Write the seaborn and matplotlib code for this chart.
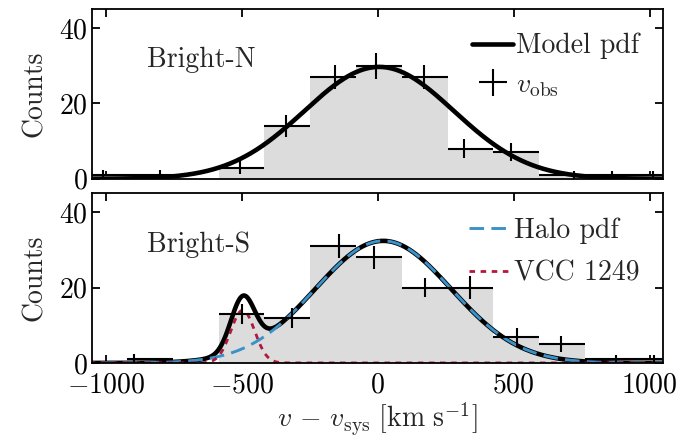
import numpy as np
import matplotlib
matplotlib.use("Agg")
import matplotlib.pyplot as plt
import seaborn as sns

# Histogram bin edges (km/s), shared by both panels
bin_edges = [-1091, -922.5, -754, -585.5, -417, -248.5, -80, 88.5, 257, 425.5, 594, 762.5, 931, 1099.5]
bin_centers = [(a + b) / 2 for a, b in zip(bin_edges[:-1], bin_edges[1:])]

# Bright-N counts per bin
north_counts = [1, 1, 0, 3, 14, 27, 30, 27, 8, 7, 1, 1, 1]
# Bright-S counts per bin
south_counts = [0, 1, 0, 13, 12, 31, 28, 20, 20, 7, 5, 1, 1]

# observed crosses: position of vertical bar, count, error
north_obs_v = [-1013, -802, -508, -336, -156, -5, 171, 317, 490, 721, 861, 1013]
north_obs_n = [1, 1, 3, 14, 27, 30, 27, 8, 7, 1, 1, 1]
north_obs_err = [1.3, 1.3, 1.7, 3.0, 3.1, 3.5, 3.1, 2.6, 2.4, 1.2, 1.2, 1.2]

south_obs_v = [-898, -498, -317, -141, -13, 174, 339, 511, 673, 875, 1015]
south_obs_n = [1, 13, 12, 31, 28, 20, 20, 7, 5, 1, 1]
south_obs_err = [1.3, 2.6, 2.6, 3.2, 3.1, 2.6, 3.0, 2.2, 2.1, 1.2, 1.2]

# Gaussian model parameters (amplitude in counts, mean, sigma in km/s)
north_model = (29.7, 5, 275)
halo_model = (32.4, 20, 250)
vcc_model = (14.0, -497, 44)

# ---------------------------------------------------------------
sns.set_style("ticks")
plt.rcParams.update({
    "font.family": "serif",
    "font.serif": ["cmr10"],
    "mathtext.fontset": "cm",
    "axes.formatter.use_mathtext": True,
    "font.size": 20,
    "axes.linewidth": 1.3,
    "xtick.direction": "in",
    "ytick.direction": "in",
    "xtick.top": True,
    "ytick.right": True,
    "xtick.major.size": 6,
    "ytick.major.size": 6,
    "xtick.major.width": 1.3,
    "ytick.major.width": 1.3,
    "xtick.major.pad": 7,
    "xtick.color": "black",
    "ytick.color": "black",
    "axes.edgecolor": "black",
})

grey = "#dcdcdc"
blue = "#3a92c8"
red = "#b2183c"


def gauss(v, amp, mu, sig):
    return amp * np.exp(-0.5 * ((v - mu) / sig) ** 2)


def xerr_for(vs):
    lo, hi = [], []
    for v in vs:
        i = np.searchsorted(bin_edges, v) - 1
        lo.append(v - bin_edges[i])
        hi.append(bin_edges[i + 1] - v)
    return [lo, hi]


v_grid = np.linspace(-1100, 1100, 900)

fig, (ax1, ax2) = plt.subplots(2, 1, figsize=(6.9, 4.41), dpi=100, sharex=True)
fig.subplots_adjust(left=0.134, right=0.961, top=0.979, bottom=0.177, hspace=0.086)

# --- top panel: Bright-N
sns.histplot(x=bin_centers, weights=north_counts, bins=bin_edges, ax=ax1,
             color=grey, edgecolor="none", alpha=1, linewidth=0)
sns.lineplot(x=v_grid, y=gauss(v_grid, *north_model), ax=ax1, color="black",
             lw=3.3, label="Model pdf", estimator=None)
ax1.errorbar(north_obs_v, north_obs_n, xerr=xerr_for(north_obs_v), yerr=north_obs_err,
             fmt="none", ecolor="black", elinewidth=1.5, label=r"$v_{\rm obs}$", zorder=3)
ax1.text(0.095, 0.70, "Bright-N", transform=ax1.transAxes, ha="left", va="center")
ax1.legend(loc="upper right", frameon=False, handlelength=1.5, handletextpad=0.1,
           labelspacing=0.45, borderaxespad=0.45)

# --- bottom panel: Bright-S
halo = gauss(v_grid, *halo_model)
vcc = gauss(v_grid, *vcc_model)
sns.histplot(x=bin_centers, weights=south_counts, bins=bin_edges, ax=ax2,
             color=grey, edgecolor="none", alpha=1, linewidth=0)
sns.lineplot(x=v_grid, y=halo + vcc, ax=ax2, color="black", lw=3.3, estimator=None)
sns.lineplot(x=v_grid, y=halo, ax=ax2, color=blue, lw=2.1, label="Halo pdf",
             estimator=None, linestyle=(0, (5, 2.5)))
sns.lineplot(x=v_grid, y=vcc, ax=ax2, color=red, lw=2.0, label="VCC 1249",
             estimator=None, linestyle=(0, (2, 2)))
ax2.errorbar(south_obs_v, south_obs_n, xerr=xerr_for(south_obs_v), yerr=south_obs_err,
             fmt="none", ecolor="black", elinewidth=1.5, zorder=3)
ax2.text(0.095, 0.70, "Bright-S", transform=ax2.transAxes, ha="left", va="center")
ax2.legend(loc="upper right", frameon=False, handlelength=1.5, handletextpad=0.1,
           labelspacing=0.6, borderaxespad=0.45)

for ax in (ax1, ax2):
    ax.set_xlim(-1050, 1050)
    ax.set_ylim(0, 45)
    ax.set_yticks([0, 20, 40])
    ax.set_xticks([-1000, -500, 0, 500, 1000])
    ax.set_ylabel("Counts", labelpad=8)

ax2.set_xlabel(r"$v\, -\, v_{\rm sys}\ [{\rm km\ s^{-1}}]$", labelpad=1)

fig.savefig("out.png", dpi=100)
